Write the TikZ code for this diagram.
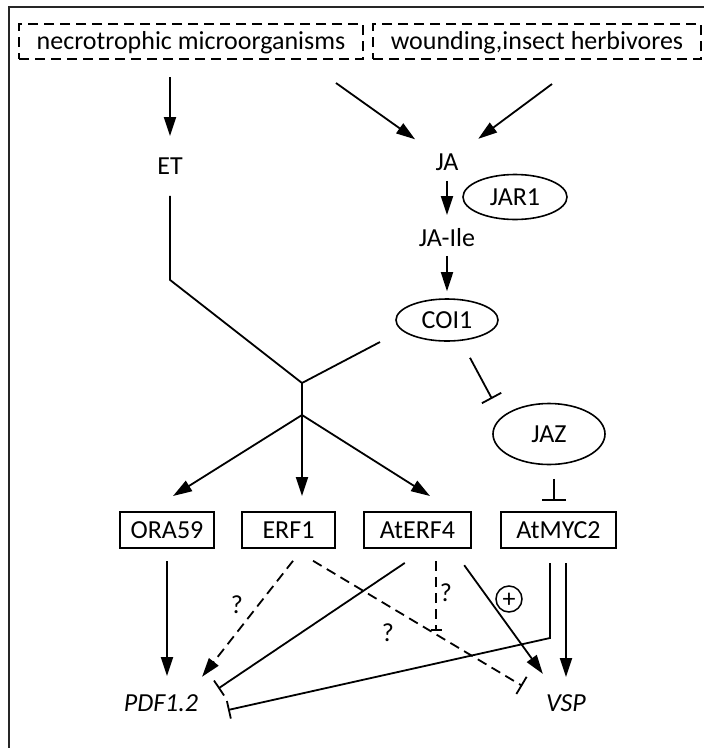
\documentclass[tikz,border=0pt]{standalone}
\usepackage{fontspec}
\setmainfont{Carlito}
\usetikzlibrary{arrows.meta,shapes.geometric}

\begin{document}
\begin{tikzpicture}[x=1pt,y=-1pt,line width=1.8pt,
  every node/.style={font=\fontsize{26}{31}\selectfont,inner sep=0pt,text height=16pt,text depth=0pt},
  arr/.style={-{Triangle[length=19pt,width=12pt]}},
  inh/.style={-{Bar[width=#1]}}, inh/.default=22pt,
  gene/.style={draw,line width=2pt,minimum height=36pt},
  prot/.style={draw,ellipse,line width=1.6pt},
  cue/.style={draw,dash pattern=on 10pt off 6pt,line width=2pt,minimum height=35pt},
  hint/.style={dash pattern=on 10pt off 6pt}]
\useasboundingbox (0,0) rectangle (704,748);
\draw[line width=2.2pt,black!85] (9,760) -- (9,7) -- (720,7);
\node[cue,minimum width=344pt] (necro) at (191,41.5) {necrotrophic microorganisms};
\node[cue,minimum width=328pt] (wound) at (537,41.5) {wounding,insect herbivores};
\node (ET) at (170,166) {ET};
\node (JA) at (447,162) {JA};
\node[prot,minimum width=104pt,minimum height=45pt] (JAR1) at (515,197) {JAR1};
\node (JAIle) at (447,238) {JA-Ile};
\node[prot,minimum width=102pt,minimum height=42pt] (COI1) at (447,320) {COI1};
\node[prot,minimum width=112pt,minimum height=61pt] (JAZ) at (549,434) {JAZ};
\foreach \g/\x/\w in {ORA59/167/94, ERF1/288.5/93, AtERF4/417.5/107, AtMYC2/558.5/115}
  \node[gene,minimum width=\w pt] (\g) at (\x,530) {\g};
\node (PDF) at (161,703) {\itshape PDF1.2};
\node (VSP) at (566,703) {\itshape VSP};
\node[circle,draw,line width=1.5pt,minimum size=26pt] (plus) at (509,599) {+};
\node (q1) at (237,605) {?};
\node (q2) at (446,593) {?};
\node (q3) at (388,633) {?};
\draw[arr,shorten <=17pt,shorten >=21pt] (necro.south -| ET) -- (ET);
\draw[arr,shorten >=24pt] ([shift={(-28,23)}]necro.south east) -- (JA);
\draw[arr,shorten >=24pt] ([shift={(180,24)}]wound.south west) -- (JA);
\draw[arr,shorten <=10pt,shorten >=14pt] (JA) -- (JAIle);
\draw[arr,shorten <=9pt,shorten >=7pt] (JAIle) -- (COI1);
\coordinate (hub) at (302,383);
\draw ([shift={(0,21)}]ET.south) -- ++(0,84) -- (hub);
\draw (hub) -- ++(78,-41);
\draw (hub) -- ++(0,32) coordinate (fork);
\foreach \g/\dx in {ORA59/6,ERF1/13.5,AtERF4/12.5}
  \draw[arr] (fork) -- ([shift={(\dx,-15)}]\g.north);
\draw[inh] ([shift={(23,16)}]COI1.south) -- ++(22,41);
\draw[inh=24pt] ([shift={(5,13.5)}]JAZ.south) -- ([shift={(-4.5,-10)}]AtMYC2.north);
\draw[arr,shorten <=12pt,shorten >=18pt] (ORA59.south) -- (ORA59.south |- PDF.north);
\draw[arr,hint,shorten <=15pt,shorten >=22pt] ([shift={(13.8,0)}]ERF1.south) -- ([shift={(27.5,0)}]PDF.north);
\draw[inh=20pt,hint,shorten <=23pt,shorten >=16pt] ([shift={(4.8,0)}]ERF1.south) -- ([shift={(-30,0)}]VSP.north);
\draw[inh=18pt,shorten <=25pt,shorten >=10pt] ([shift={(8,0)}]AtERF4.south) -- ([shift={(49,0)}]PDF.north);
\draw[inh=11pt,hint,shorten <=12pt] ([shift={(18.5,0)}]AtERF4.south) -- ++(0,82);
\draw[arr,shorten <=20pt,shorten >=25pt] ([shift={(35,0)}]AtERF4.south) -- ([shift={(-8.5,0)}]VSP.north);
\draw[inh=18pt,shorten <=14pt] ([shift={(-8.5,0)}]AtMYC2.south) -- ++(0,89) -- ([shift={(67,7)}]PDF.center);
\draw[arr,shorten <=14pt,shorten >=17pt] (VSP.north |- AtMYC2.south) -- (VSP.north);
\end{tikzpicture}
\end{document}
